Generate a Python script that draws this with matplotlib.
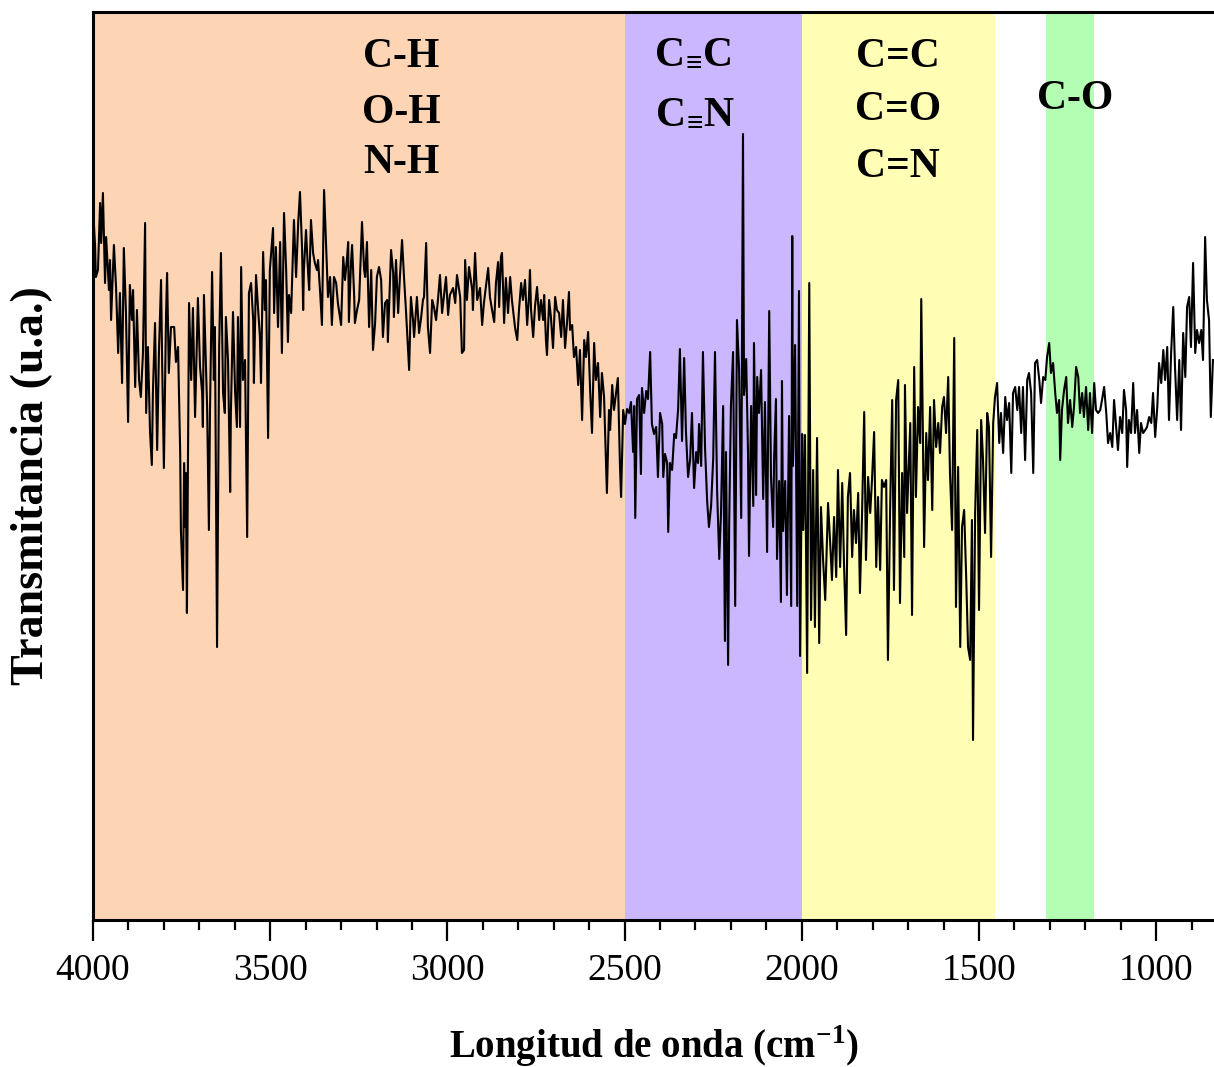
import matplotlib.pyplot as plt
from matplotlib.ticker import MultipleLocator

# Espectro FTIR: numero de onda (cm-1) y transmitancia (u.a.)
# tramo 1: 4000 - 2500 cm-1
wn_1 = [4000, 3994, 3992, 3986, 3980, 3977, 3972, 3966, 3963, 3955,
        3952, 3949, 3941, 3935, 3929, 3924, 3918, 3913, 3907, 3901,
        3896, 3890, 3887, 3881, 3876, 3870, 3865, 3859, 3853, 3850,
        3845, 3839, 3834, 3831, 3825, 3819, 3814, 3808, 3805, 3800,
        3794, 3791, 3786, 3780, 3771, 3766, 3760, 3754, 3752, 3746,
        3743, 3740, 3738, 3735, 3729, 3723, 3718, 3712, 3704, 3698,
        3692, 3690, 3687, 3678, 3673, 3670, 3664, 3659, 3656, 3650,
        3644, 3639, 3633, 3628, 3625, 3619, 3613, 3611, 3605, 3599,
        3594, 3591, 3585, 3582, 3577, 3571, 3565, 3560, 3554,
        3548, 3546, 3540, 3534, 3529, 3526, 3520, 3515, 3512, 3506,
        3501, 3492, 3489, 3484, 3478, 3472, 3467, 3461, 3455, 3450,
        3447, 3441, 3433, 3427, 3421, 3416, 3410, 3407, 3405, 3399,
        3393, 3390, 3385, 3379, 3374, 3368, 3365, 3359, 3354, 3348,
        3342, 3337, 3331, 3326, 3320, 3314, 3309, 3300, 3294, 3289,
        3283, 3280, 3278, 3272, 3269, 3263, 3261, 3255, 3249, 3241,
        3235, 3232, 3227, 3221, 3215, 3210, 3204, 3199, 3193, 3187,
        3182, 3176, 3170, 3168, 3159, 3153, 3151, 3145, 3139, 3134,
        3128, 3122, 3117, 3108, 3103, 3097,
        3094, 3086, 3080, 3074, 3069, 3066, 3060, 3055, 3049, 3043,
        3038, 3032, 3026, 3021, 3015, 3010, 3004, 2998, 2993, 2984,
        2978, 2973, 2964, 2959, 2953, 2950, 2945, 2939, 2930, 2928,
        2922, 2916, 2908, 2902, 2897, 2888, 2885, 2880, 2874, 2868,
        2863, 2857, 2854, 2849, 2846, 2840, 2835, 2829, 2823, 2818,
        2809, 2803, 2798, 2792, 2787, 2781, 2775, 2770, 2767, 2764,
        2758, 2753, 2747, 2741, 2736, 2730, 2727, 2722, 2719, 2713,
        2708, 2702, 2696, 2691, 2685, 2679, 2674, 2668, 2662, 2657,
        2654, 2648, 2643, 2637, 2631, 2626, 2620, 2614, 2609, 2603,
        2597, 2592, 2586, 2581, 2575, 2569, 2564, 2558, 2550, 2544,
        2541, 2535, 2530, 2524, 2519, 2513, 2510, 2504]
tr_1 = [71.3, 67.3, 64.3, 65.0, 71.7, 67.7, 72.7, 63.7, 68.3, 63.0,
        66.0, 60.0, 67.5, 63.3, 56.7, 62.7, 53.7, 67.2, 60.7, 49.8,
        63.5, 60.0, 63.0, 53.3, 61.0, 54.0, 52.3, 56.7, 69.7, 50.7,
        57.3, 48.7, 45.5, 52.7, 59.7, 47.0, 56.7, 64.0, 56.0, 45.2,
        60.3, 64.7, 54.7, 59.3, 59.3, 55.8, 57.3, 46.7, 39.0, 33.0,
        45.7, 39.3, 44.7, 30.7, 61.7, 54.0, 61.2, 50.3, 62.2, 55.3,
        52.7, 49.3, 62.5, 51.3, 39.0, 50.7, 64.8, 54.0, 59.3, 27.3,
        57.3, 66.7, 52.7, 50.7, 60.3, 56.0, 42.8, 50.7, 60.8, 52.7,
        49.3, 60.3, 49.3, 65.3, 54.0, 56.0, 38.3, 62.7, 63.7,
        60.0, 53.7, 64.5, 61.0, 58.3, 53.7, 66.8, 61.0, 64.0, 48.2,
        65.0, 69.2, 60.7, 67.3, 59.3, 67.8, 56.7, 70.7, 65.0, 57.8,
        62.5, 60.7, 70.0, 64.3, 69.7, 72.8, 67.0, 61.0, 65.0, 69.0,
        64.7, 63.0, 70.0, 66.7, 65.7, 65.0, 66.0, 62.7, 59.5, 73.0,
        67.0, 62.3, 64.3, 59.5, 64.3, 63.7, 61.7, 59.5, 66.3, 64.0,
        66.3, 67.8, 59.8, 65.7, 67.5, 62.3, 59.7, 61.0, 62.0, 69.8,
        65.0, 64.3, 67.8, 59.3, 65.0, 57.0, 59.7, 64.3, 65.3, 64.0,
        58.3, 61.7, 62.0, 57.8, 67.0, 64.7, 60.3, 66.0, 60.7, 64.3,
        68.0, 64.0, 61.0, 55.0, 62.3, 60.0,
        58.3, 62.3, 58.7, 60.3, 62.0, 62.3, 67.7, 59.3, 56.7, 62.0,
        61.3, 60.0, 62.3, 64.5, 60.7, 62.3, 64.3, 60.5, 62.5, 63.2,
        61.7, 64.5, 62.3, 56.7, 57.0, 66.0, 62.0, 65.3, 63.0, 61.0,
        66.7, 62.0, 63.2, 59.5, 61.7, 64.3, 65.2, 62.3, 61.0, 59.8,
        63.7, 65.8, 61.3, 66.3, 66.7, 59.7, 64.2, 60.7, 64.3, 62.0,
        59.2, 58.0, 61.0, 63.7, 62.0, 64.0, 59.5, 62.3, 65.0, 61.0,
        58.3, 61.3, 63.3, 60.0, 62.0, 60.0, 62.5, 58.0, 56.5, 62.0,
        60.3, 57.2, 62.3, 61.0, 60.7, 58.3, 62.0, 57.2, 60.0, 62.8,
        59.0, 59.5, 56.3, 57.3, 53.5, 57.0, 50.0, 58.0, 56.3, 58.8,
        52.7, 48.7, 57.7, 54.0, 55.7, 50.3, 54.7, 52.3, 42.7, 51.0,
        49.0, 53.5, 51.0, 52.7, 54.2, 45.3, 42.3, 51.0]

# tramo 2: 2500 - 2000 cm-1
wn_2 = [2499, 2493, 2487, 2482, 2476, 2473, 2470, 2465, 2459, 2454,
        2451, 2445, 2439, 2434, 2428, 2423, 2417, 2411, 2406, 2400,
        2394, 2391, 2386, 2380, 2377, 2372, 2366, 2360, 2355, 2349,
        2344, 2338, 2332, 2327, 2321, 2315, 2310, 2304, 2298, 2293,
        2290, 2284, 2279, 2273, 2267, 2262, 2256, 2250, 2245, 2239,
        2233, 2228, 2222, 2217, 2214, 2208, 2205, 2200, 2194, 2188,
        2183, 2177, 2171, 2166, 2163, 2157, 2152, 2149, 2143, 2137,
        2135, 2129, 2126, 2121, 2115, 2109, 2104, 2098, 2092, 2087,
        2081, 2078, 2073, 2070, 2064, 2059, 2056, 2053, 2047, 2042,
        2036, 2030, 2027, 2025, 2019, 2013, 2008, 2005, 1999]
tr_2 = [49.6, 51.1, 50.7, 51.8, 46.8, 51.4, 40.2, 52.1, 52.5, 44.6,
        53.2, 50.7, 52.9, 52.1, 56.8, 49.6, 48.6, 49.3, 44.3, 50.7,
        49.6, 44.3, 46.6, 45.7, 38.8, 45.7, 45.0, 48.6, 48.2, 51.1,
        57.1, 47.9, 56.2, 48.9, 44.3, 46.1, 50.7, 43.2, 46.8, 45.7,
        49.6, 45.4, 56.8, 47.1, 41.8, 39.3, 41.4, 46.2, 56.8, 42.9,
        36.1, 40.7, 51.4, 27.9, 46.8, 25.5, 39.6, 51.4, 56.8, 31.4,
        60.0, 55.0, 40.2, 78.6, 52.5, 56.1, 47.1, 36.4, 51.4, 41.4,
        57.7, 42.5, 54.3, 50.7, 55.0, 42.1, 51.8, 36.8, 60.9, 44.3,
        39.3, 46.4, 52.1, 36.1, 43.9, 31.8, 53.9, 38.9, 43.9, 32.5,
        50.4, 31.4, 68.4, 45.4, 57.5, 31.4, 62.9, 26.4, 48.6]

# tramo 3: 2000 - 1450 cm-1
wn_3 = [1996, 1991, 1985, 1979, 1974, 1968, 1963, 1957, 1951, 1946,
        1940, 1934, 1926, 1920, 1915, 1909, 1903, 1898, 1892, 1886,
        1881, 1875, 1870, 1864, 1858, 1853, 1847, 1841, 1836, 1830,
        1824, 1819, 1813, 1807, 1802, 1796, 1790, 1785, 1779, 1774,
        1768, 1762, 1757, 1751, 1745, 1740, 1734, 1728, 1723, 1717,
        1711, 1709, 1703, 1694, 1689, 1683, 1678, 1672, 1666, 1663,
        1658, 1655, 1649, 1644, 1638, 1632, 1627, 1621, 1615, 1610,
        1604, 1599, 1593, 1587, 1582, 1576, 1570, 1565, 1559, 1553,
        1548, 1542, 1536, 1531, 1525, 1520, 1517, 1511, 1505, 1500,
        1494, 1489, 1483, 1477, 1472, 1466, 1460, 1455, 1449, 1443]
tr_3 = [39.0, 48.5, 24.7, 63.7, 30.0, 45.0, 29.3, 48.2, 27.7, 41.3,
        36.0, 32.0, 41.7, 37.7, 34.0, 40.3, 34.3, 45.0, 35.3, 43.7,
        35.7, 28.5, 42.3, 44.7, 36.3, 41.0, 37.7, 42.7, 32.7, 40.7,
        50.8, 36.0, 44.3, 40.7, 44.0, 48.8, 35.3, 42.3, 35.0, 44.0,
        43.3, 44.0, 26.0, 40.7, 52.0, 33.0, 52.0, 54.0, 31.7, 44.7,
        36.3, 53.5, 40.7, 49.7, 30.5, 55.3, 42.3, 51.3, 47.7, 62.1,
        47.3, 37.3, 48.7, 44.0, 51.3, 41.0, 52.0, 47.3, 49.7, 46.7,
        51.3, 52.3, 48.7, 54.3, 44.7, 39.0, 58.2, 31.3, 45.3, 27.3,
        39.3, 41.0, 34.0, 27.3, 26.0, 40.0, 18.0, 40.7, 49.0, 31.0,
        50.0, 46.3, 38.7, 50.7, 49.3, 36.3, 49.7, 52.3, 53.7, 47.7]

# tramo 4: 1450 - 840 cm-1
wn_4 = [1438, 1432, 1426, 1421, 1415, 1409, 1404, 1398, 1392, 1387,
        1381, 1376, 1370, 1364, 1359, 1353, 1347, 1342, 1336, 1330,
        1325, 1319, 1313, 1308, 1302, 1297, 1291, 1285, 1280, 1274,
        1271, 1266, 1260, 1254, 1249, 1243, 1237, 1232, 1226, 1220,
        1215, 1209, 1204, 1198, 1192, 1187, 1181, 1175, 1170, 1164,
        1158, 1153, 1147, 1141, 1136, 1130, 1124, 1119, 1113, 1108,
        1102, 1096, 1091, 1085, 1082, 1077, 1071, 1065, 1060, 1054,
        1048, 1043, 1037, 1031, 1026, 1020, 1014, 1009, 1003, 997,
        992, 986, 980, 975, 969, 964, 958, 952, 947, 941,
        935, 930, 924, 918, 913, 907, 902, 896, 890, 885,
        879, 873, 868, 862, 857, 851, 846, 840]
tr_4 = [50.7, 46.7, 52.3, 50.0, 51.7, 44.7, 52.7, 53.3, 51.0, 53.3,
        48.7, 53.3, 46.0, 54.0, 54.7, 52.7, 44.7, 55.7, 56.0, 54.0,
        51.7, 54.3, 54.0, 56.3, 57.7, 54.7, 55.7, 52.7, 50.7, 52.0,
        46.0, 51.0, 53.0, 54.3, 49.7, 52.0, 49.3, 51.3, 55.3, 54.3,
        50.7, 52.7, 50.3, 53.3, 49.0, 52.7, 48.7, 53.7, 51.0, 50.7,
        51.0, 52.0, 53.3, 50.7, 47.7, 48.7, 47.3, 52.0, 49.3, 47.0,
        50.3, 48.7, 53.0, 51.0, 45.3, 50.0, 48.7, 53.7, 48.7, 51.0,
        46.7, 49.7, 48.7, 49.0, 49.3, 50.3, 49.7, 52.7, 48.3, 51.3,
        55.7, 53.7, 57.0, 54.0, 57.3, 50.0, 56.7, 61.3, 55.3, 50.0,
        56.0, 49.0, 58.7, 54.3, 61.3, 62.3, 57.3, 65.7, 56.7, 59.0,
        57.7, 59.0, 56.0, 68.3, 62.0, 60.0, 50.3, 56.0]

# regiones de grupos funcionales (cm-1)
bandas_ini = [4000, 2500, 2000, 1310]
bandas_fin = [2500, 2000, 1455, 1176]
bandas_col = ['#FDD4B4', '#CAB7FD', '#FFFEB4', '#B4FEB4']

plt.rcParams['font.family'] = 'Liberation Serif'
plt.rcParams['mathtext.fontset'] = 'custom'
plt.rcParams['mathtext.rm'] = 'Liberation Serif'
plt.rcParams['mathtext.bf'] = 'Liberation Serif:bold'

wn = wn_1 + wn_2 + wn_3 + wn_4
tr = tr_1 + tr_2 + tr_3 + tr_4

fig = plt.figure(figsize=(12.14, 10.67), dpi=100)
ax = fig.add_axes([93 / 1214, 147 / 1067, 1121 / 1214, 908 / 1067])

for a, b, c in zip(bandas_ini, bandas_fin, bandas_col):
    ax.axvspan(a, b, color=c, lw=0, zorder=0)

ax.plot(wn, tr, color='black', lw=1.5, zorder=2)

ax.set_xlim(4000, 837)
ax.set_ylim(0, 90.8)
ax.set_yticks([])
ax.xaxis.set_major_locator(MultipleLocator(500))
ax.xaxis.set_minor_locator(MultipleLocator(100))
ax.tick_params(axis='x', which='major', direction='out', length=15, width=1.6,
               labelsize=27, pad=9)
ax.tick_params(axis='x', which='minor', direction='out', length=7.5, width=1.6)
for s in ['left', 'bottom', 'top']:
    ax.spines[s].set_linewidth(2.2)
ax.spines['right'].set_visible(False)

ax.set_xlabel('Longitud de onda (cm$^{\\mathbf{-1}}$)', fontsize=28, fontweight='bold')
ax.xaxis.set_label_coords(0.5, -0.113)
ax.set_ylabel('Transmitancia (u.a.)', fontsize=33, fontweight='bold')
ax.yaxis.set_label_coords(-0.036, 0.478)

kw = dict(ha='center', va='center', fontsize=30, fontweight='bold')
ax.text(3130, 86.3, 'C-H', **kw)
ax.text(3130, 80.7, 'O-H', **kw)
ax.text(3130, 75.7, 'N-H', **kw)
ax.text(2310, 86.8, r'C$_{\!\mathbf{\equiv}}\!$C', **kw)
ax.text(2301, 80.8, r'C$_{\!\mathbf{\equiv}}\!$N', **kw)
ax.text(1728, 86.3, 'C=C', **kw)
ax.text(1728, 81.0, 'C=O', **kw)
ax.text(1728, 75.3, 'C=N', **kw)
ax.text(1229, 82.1, 'C-O', **kw)

fig.savefig('out.png', dpi=100)
